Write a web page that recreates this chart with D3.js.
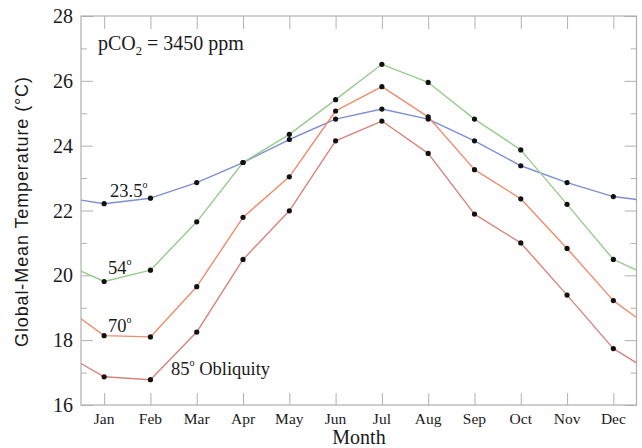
<!DOCTYPE html>
<html>
<head>
<meta charset="utf-8">
<script src="https://cdn.jsdelivr.net/npm/d3@7"></script>
<style>
  html, body { margin: 0; padding: 0; background: #fff; }
  svg { display: block; }
</style>
</head>
<body>
<svg id="chart" width="642" height="448"></svg>
<script>
// Monthly global-mean temperature (°C) for four obliquities at pCO2 = 3450 ppm
const months = ["Jan","Feb","Mar","Apr","May","Jun","Jul","Aug","Sep","Oct","Nov","Dec"];
const monthIndex = [1,2,3,4,5,6,7,8,9,10,11,12];

const obl235 = [22.21, 22.38, 22.86, 23.48, 24.19, 24.82, 25.13, 24.82, 24.15, 23.38, 22.86, 22.43];
const obl54  = [19.81, 20.16, 21.65, 23.48, 24.35, 25.42, 26.51, 25.95, 24.82, 23.87, 22.19, 20.49];
const obl70  = [18.14, 18.10, 19.65, 21.79, 23.04, 25.07, 25.82, 24.89, 23.26, 22.36, 20.83, 19.22];
const obl85  = [16.87, 16.78, 18.25, 20.49, 21.99, 24.15, 24.76, 23.76, 21.89, 21.00, 19.39, 17.74];

// curve values where each line meets the left (mid-Dec/Jan) and right frame edges
const edgeLeft  = [22.32, 20.13, 18.66, 17.28];
const edgeRight = [22.34, 20.16, 18.70, 17.30];

const seriesNames = ["23.5", "54", "70", "85"];
const seriesColors = ["#7d8fd2", "#98cc8e", "#f08c6c", "#d8837a"];
const seriesValues = [obl235, obl54, obl70, obl85];

const yMajorTicks = [16, 18, 20, 22, 24, 26, 28];
const yMinorTicks = [17, 19, 21, 23, 25, 27];

const svg = d3.select("#chart");
const plotL = 81, plotR = 636.5, plotT = 16, plotB = 405;

const x = d3.scaleLinear().domain([0.5, 12.5]).range([plotL, plotR]);
const y = d3.scaleLinear().domain([16, 28]).range([plotB, plotT]);

const frameColor = "#b0b0b0";
const textColor = "#1a1a1a";
const serif = "'Liberation Serif', 'Times New Roman', serif";

// ticks drawn inward on all four sides
const bottomAxis = d3.axisTop(x).tickValues(monthIndex).tickSize(12).tickFormat("");
const topAxis = d3.axisBottom(x).tickValues(monthIndex).tickSize(13).tickFormat("");
const leftMajor = d3.axisRight(y).tickValues(yMajorTicks).tickSize(12).tickFormat("");
const leftMinor = d3.axisRight(y).tickValues(yMinorTicks).tickSize(6).tickFormat("");
const rightMajor = d3.axisLeft(y).tickValues(yMajorTicks).tickSize(12).tickFormat("");
const rightMinor = d3.axisLeft(y).tickValues(yMinorTicks).tickSize(6).tickFormat("");

function styleAxis(g) {
  g.select(".domain").remove();
  g.selectAll("line").attr("stroke", frameColor);
}
svg.append("g").attr("transform", `translate(0,${plotB})`).call(bottomAxis).call(styleAxis);
svg.append("g").attr("transform", `translate(0,${plotT})`).call(topAxis).call(styleAxis);
svg.append("g").attr("transform", `translate(${plotL},0)`).call(leftMajor).call(styleAxis);
svg.append("g").attr("transform", `translate(${plotL},0)`).call(leftMinor).call(styleAxis);
svg.append("g").attr("transform", `translate(${plotR},0)`).call(rightMajor).call(styleAxis);
svg.append("g").attr("transform", `translate(${plotR},0)`).call(rightMinor).call(styleAxis);

svg.append("rect")
  .attr("x", plotL).attr("y", plotT)
  .attr("width", plotR - plotL).attr("height", plotB - plotT)
  .attr("fill", "none").attr("stroke", frameColor).attr("stroke-width", 1.2);

// tick labels
svg.append("g").selectAll("text").data(yMajorTicks).join("text")
  .attr("x", 73).attr("y", d => y(d) + 7)
  .attr("text-anchor", "end")
  .attr("font-family", serif).attr("font-size", 20).attr("fill", textColor)
  .text(d => d);

svg.append("g").selectAll("text").data(monthIndex).join("text")
  .attr("x", d => x(d)).attr("y", 424)
  .attr("text-anchor", "middle")
  .attr("font-family", serif).attr("font-size", 15.5).attr("fill", textColor)
  .text(d => months[d - 1]);

// axis titles
svg.append("text")
  .attr("x", 359).attr("y", 444)
  .attr("text-anchor", "middle")
  .attr("font-family", serif).attr("font-size", 20).attr("fill", textColor)
  .text("Month");

svg.append("text")
  .attr("transform", "translate(28,212) rotate(-90)")
  .attr("text-anchor", "middle")
  .attr("textLength", 270).attr("lengthAdjust", "spacing")
  .attr("font-family", "'Liberation Sans', Arial, sans-serif").attr("font-size", 18).attr("fill", textColor)
  .text("Global-Mean Temperature (°C)");

// lines
const line = d3.line()
  .x(d => x(d[0])).y(d => y(d[1]))
  .curve(d3.curveLinear);

seriesValues.forEach((vals, i) => {
  const pts = [[0.5, edgeLeft[i]]]
    .concat(vals.map((v, j) => [monthIndex[j], v]))
    .concat([[12.5, edgeRight[i]]]);
  svg.append("path")
    .datum(pts)
    .attr("d", line)
    .attr("fill", "none")
    .attr("stroke", seriesColors[i])
    .attr("stroke-width", 1.4)
    .attr("stroke-linejoin", "round");
});

seriesValues.forEach((vals) => {
  svg.append("g").selectAll("circle").data(vals).join("circle")
    .attr("cx", (d, j) => x(monthIndex[j]))
    .attr("cy", d => y(d))
    .attr("r", 2.6)
    .attr("fill", "#111");
});

// annotations
function degLabel(xp, yp, num, rest) {
  const t = svg.append("text")
    .attr("x", xp).attr("y", yp)
    .attr("font-family", serif).attr("font-size", 18.5).attr("fill", textColor);
  t.append("tspan").text(num);
  t.append("tspan").attr("font-size", 10).attr("dy", -9).text("o");
  if (rest) t.append("tspan").attr("dy", 9).text(" " + rest);
}
degLabel(110, 197, seriesNames[0]);
degLabel(108, 274, seriesNames[1]);
degLabel(108, 332, seriesNames[2]);
degLabel(171, 375, seriesNames[3], "Obliquity");

const co2 = svg.append("text")
  .attr("x", 98).attr("y", 50)
  .attr("font-family", serif).attr("font-size", 20).attr("fill", textColor);
co2.append("tspan").text("pCO");
co2.append("tspan").attr("font-size", 12.5).attr("dy", 5).text("2");
co2.append("tspan").attr("dy", -5).text(" = 3450 ppm");
</script>
</body>
</html>
